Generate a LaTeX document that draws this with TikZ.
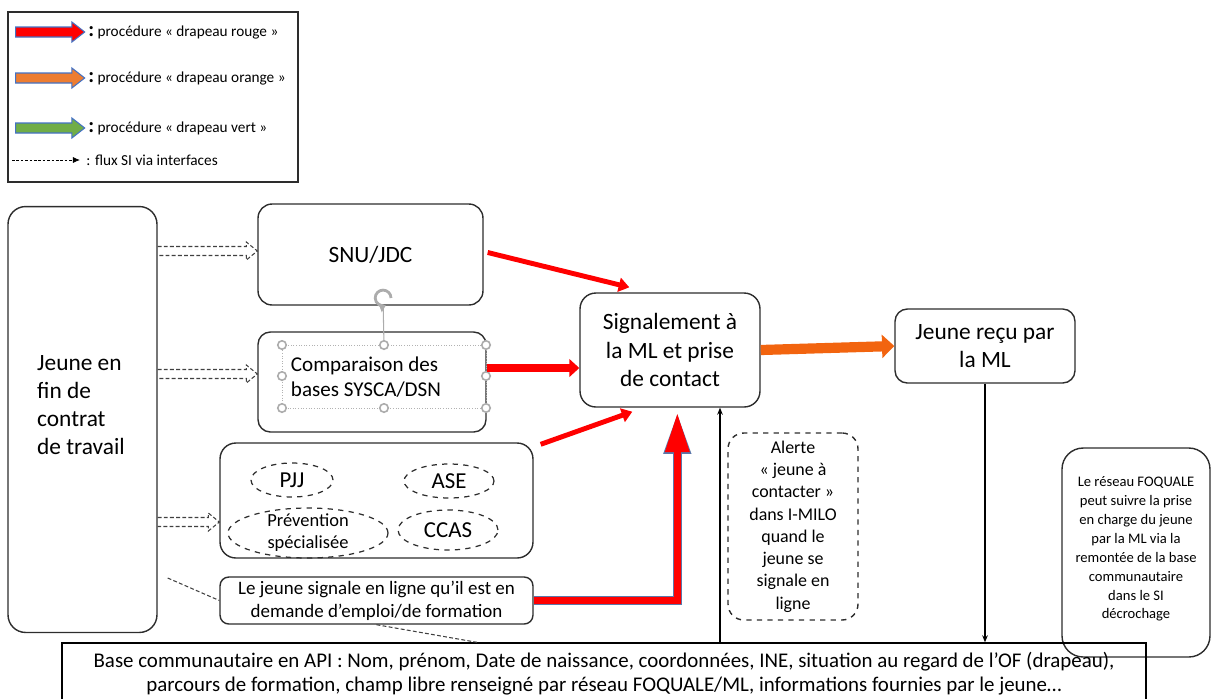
\documentclass[tikz,border=0pt]{standalone}
\usepackage{fontspec}
\setmainfont{Carlito}
\usepackage{tikz}
\usetikzlibrary{arrows.meta}
\usetikzlibrary{calc}
\usetikzlibrary{shapes.arrows}
\usetikzlibrary{shapes.geometric}

\definecolor{flagred}{RGB}{255,0,0}
\definecolor{flagorange}{RGB}{237,125,49}
\definecolor{flagorangedk}{RGB}{242,100,15}
\definecolor{flaggreen}{RGB}{112,173,71}
\definecolor{flagedge}{RGB}{68,114,196}
\definecolor{boxline}{RGB}{45,45,45}

\begin{document}
\begin{tikzpicture}
	[x=0.02cm, y=-0.02cm,
	every node/.style={inner sep=0pt},
	box/.style={draw=boxline, line width=0.8pt, rounded corners=#1},
	box/.default=7pt,
	bigtxt/.style={font=\fontsize{13.3}{16}\selectfont, align=center},
	org/.style={ellipse, draw=boxline, dashed, line width=0.7pt, align=center},
	handle/.style={circle, draw=gray!65, fill=white, line width=0.9pt, minimum size=0.17cm},
	sibox/.style={draw=gray!60, densely dotted, line width=0.5pt},
	siflux/.style={draw=black!75, line width=0.6pt, dash pattern=on 2.2pt off 1.3pt},
	info/.style={draw=black, line width=0.6pt, -{Stealth[length=4pt,width=3.2pt]}},
	redthin/.style={draw=flagred, line width=2.8pt, -{Triangle[length=6pt,width=8pt]}},
	redmid/.style={draw=flagred, line width=4.3pt, -{Triangle[length=5.7pt,width=10pt]}},
	redbig/.style={draw=flagred, line width=4pt, -{Triangle[length=22.5pt,width=13pt]},
		preaction={draw=flagedge!60!gray, line width=5pt, -{Triangle[length=23.5pt,width=14.5pt]}}},
	orangeflow/.style={draw=flagorangedk, line width=5.8pt, -{Triangle[length=7pt,width=13pt]}},
	legarrow/.style={single arrow, draw=flagedge, line width=0.6pt, fill=#1,
		minimum height=1.38cm, minimum width=0.38cm, inner ysep=2.55pt,
		single arrow head extend=0.1cm, single arrow tip angle=76},
	legtxt/.style={anchor=west, font=\fontsize{8.7}{10}\selectfont}]

	\useasboundingbox (0,0) rectangle (1214,698);
	\clip (0,0) rectangle (1214,698);

	% legende
	\node[box=0pt, line width=0.7pt, minimum width=5.8cm, minimum height=3.4cm] (legend) at (153,97) {};
	\node[legarrow=flagred] (lred) at (47,32) {};
	\node[legtxt] (lredtxt) at (88,32) {{\large\textbf{:}}\ procédure « drapeau rouge »};
	\node[legarrow=flagorange] (lorange) at (47,78) {};
	\node[legtxt] (lorangetxt) at (88,78) {{\large\textbf{:}}\ procédure « drapeau orange »};
	\node[legarrow=flaggreen] (lgreen) at (47,128) {};
	\node[legtxt] (lgreentxt) at (88,128) {{\large\textbf{:}}\ procédure « drapeau vert »};
	\coordinate (lsi0) at (12,160);
	\coordinate (lsi1) at (80,160);
	\draw[line width=0.5pt, dash pattern=on 1.5pt off 1pt, -{Latex[length=4pt,width=3.5pt]}] (lsi0) -- (lsi1);
	\node[legtxt] (lsitxt) at (86,160) {: flux SI via interfaces};

	% boites
	\node[box=10pt, minimum width=2.98cm, minimum height=8.52cm] (jeune) at (82.5,419.5) {};
	\node[bigtxt, align=left] (jeunetxt) at (81,405) {Jeune en\\fin de\\contrat\\de travail};

	\node[box=8pt, bigtxt, minimum width=4.5cm, minimum height=2.02cm] (snu) at (370.5,254.5) {SNU/JDC};

	\node[box=7pt, minimum width=4.56cm, minimum height=2cm] (comp) at (372,382) {};
	\draw[sibox] (282,345) rectangle (486,408);
	\node[align=left, font=\fontsize{12}{14.2}\selectfont] (comptxt) at (366,377) {Comparaison des\\bases SYSCA/DSN};
	\foreach \hx/\hy [count=\i] in {282/345, 384/345, 486/345, 282/376, 486/376, 282/408, 384/408, 486/408}
		\node[handle] (h\i) at (\hx,\hy) {};
	\node[minimum size=0.28cm] (rot) at (383,298) {};
	\draw[gray!65, line width=0.6pt] (rot) -- (h2);
	\draw[gray!65, line width=1.6pt, -{Triangle[length=3.5pt,width=5.5pt]}] ($(rot.center)+(8,0)$) arc[start angle=0, end angle=290, radius=4.5pt];

	\node[box=9pt, minimum width=6.26cm, minimum height=2.3cm] (grp) at (376.5,500.5) {};
	\node[org, minimum width=1.64cm, minimum height=0.68cm, font=\fontsize{13}{15}\selectfont] (pjj) at (292,480) {PJJ};
	\node[org, minimum width=1.8cm, minimum height=0.68cm, font=\fontsize{13}{15}\selectfont] (ase) at (449,481) {ASE};
	\node[org, minimum width=3.2cm, minimum height=1cm, inner ysep=-3pt, font=\fontsize{10.5}{12.5}\selectfont] (prev) at (308,533) {Prévention\\spécialisée};
	\node[org, minimum width=2cm, minimum height=0.8cm, font=\fontsize{13}{15}\selectfont] (ccas) at (448,530) {CCAS};

	\node[box=5pt, minimum width=6.26cm, minimum height=0.94cm, align=center, font=\fontsize{10.8}{13}\selectfont] (ljeune) at (376.5,600.5) {Le jeune signale en ligne qu’il est en\\demande d’emploi/de formation};

	\node[box=9pt, bigtxt, minimum width=3.6cm, minimum height=2.28cm] (sig) at (670,350) {Signalement à\\la ML et prise\\de contact};
	\node[box=7pt, bigtxt, minimum width=3.6cm, minimum height=1.48cm] (jr) at (985,346) {Jeune reçu par\\la ML};

	\node[box=9pt, dashed, align=center, font=\fontsize{10.2}{12.7}\selectfont, minimum width=2.6cm, minimum height=3.74cm] (alerte) at (793,526.5)
		{Alerte\\« jeune à\\contacter »\\dans I-MILO\\quand le\\jeune se\\signale en\\ligne};
	\node[box=12pt, align=center, font=\fontsize{8.3}{10.8}\selectfont, minimum width=2.96cm, minimum height=4.18cm, text depth=5.6pt] (foq) at (1136,552.5)
		{Le réseau FOQUALE\\peut suivre la prise\\en charge du jeune\\par la ML via la\\remontée de la base\\communautaire\\dans le SI\\décrochage};

	\node[draw=black, line width=0.8pt, minimum width=21.68cm, minimum height=1.38cm] (base) at (604,677.5) {};
	\node[align=center, font=\fontsize{11.9}{13.8}\selectfont] (basetxt) at (604,674)
		{Base communautaire en API : Nom, prénom, Date de naissance, coordonnées, INE, situation au regard de l’OF (drapeau),\\parcours de formation, champ libre renseigné par réseau FOQUALE/ML, informations fournies par le jeune…};

	% flux SI
	\foreach \tgt/\yy in {snu/251, comp/374, grp/522}{
		\coordinate (s) at (jeune.east |- 0,\yy);
		\coordinate (t) at (\tgt.west |- 0,\yy);
		\draw[siflux] ($(s)+(0,-4.5)$) -- ($(t)+(-11,-4.5)$) -- ($(t)+(-11,-9)$) -- (t) -- ($(t)+(-11,9)$) -- ($(t)+(-11,4.5)$) -- ($(s)+(0,4.5)$);
	}
	\draw[siflux] ($(jeune.east |- 0,578)+(10,0)$) -- (ljeune.west);
	\draw[siflux] (ljeune.south) -- (base.north -| 477,0);

	% drapeaux
	\draw[redthin] ($(snu.east)+(4,-2)$) -- ($(sig.north west)+(50,-5)$);
	\draw[redmid] (comp.east |- 0,368) -- (sig.west |- 0,368);
	\draw[redthin] ($(grp.north east)+(7,2)$) -- ($(sig.south west)+(53,4)$);
	\draw[redbig] (ljeune.east) -| ($(sig.south west)+(98,5)$);
	\draw[orangeflow] (sig.east) -- (jr.west);

	\draw[info] (base.north -| 720,0) -- (sig.south -| 720,0);
	\draw[info] (jr.south) -- (base.north -| jr.south);
\end{tikzpicture}
\end{document}
